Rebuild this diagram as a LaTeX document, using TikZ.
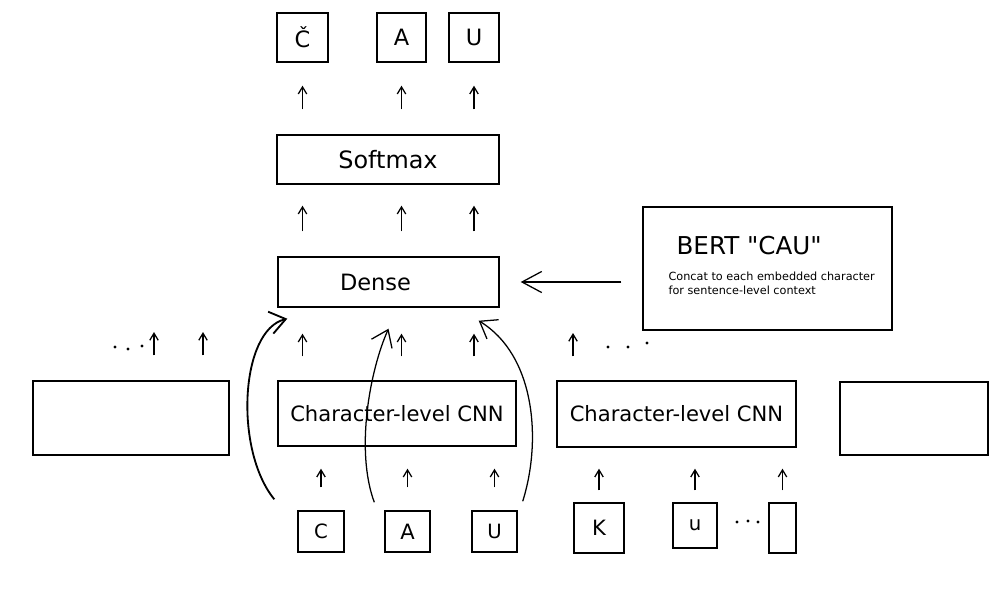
\documentclass[tikz,border=0pt]{standalone}
\usepackage{fontspec}
\setmainfont{DejaVu Sans}[Ligatures = TeXOff]
\usetikzlibrary{arrows.meta, calc}

\tikzset{
	box/.style = {draw, line width = 1pt, inner sep = 0pt},
	up/.style = {-{Straight Barb[length = 5pt, width = 6pt]}, line width = 0.9pt},
	curvearr/.style = {-{Straight Barb[length = 11pt, width = 16pt]}, line width = 0.9pt},
	fs/.style = {font = \fontsize{#1}{#1}\selectfont},
}

\begin{document}
\begin{tikzpicture}[x = 0.25mm, y = -0.25mm]
	\useasboundingbox (0,0) rectangle (1004,601);
	\node [box, fs = 16, minimum width = 12.75mm, minimum height = 12.25mm] (outc) at (302.5,37.5) {Č};
	\node [box, fs = 16, minimum width = 12.25mm, minimum height = 12.25mm] (outa) at (401.5,37.5) {A};
	\node [box, fs = 16, minimum width = 12.5mm, minimum height = 12.25mm] (outu) at (474,37.5) {U};
	\node [box, fs = 17, minimum width = 55.5mm, minimum height = 12.25mm] (softmax) at (388,159.5) {Softmax};
	\node [box, fs = 16, minimum width = 55.25mm, minimum height = 12.5mm] (dense) at (388.5,282) {\hspace*{-6.5mm}Dense};
	\node [box, minimum width = 62.25mm, minimum height = 30.75mm] (bert) at (767.5,268.5) {};
	\node [fs = 17.5, anchor = west, inner sep = 0pt] (berttitle) at ($(bert.north west) + (34,39)$) {BERT "CAU"};
	\node [font = \fontsize{8}{10}\selectfont, anchor = north west, inner sep = 0pt, align = left] (bertnote) at ($(bert.north west) + (26,65)$) {Concat to each embedded character\\for sentence-level context};
	\node [box, minimum width = 49mm, minimum height = 18.5mm] (leftbox) at (131,418) {};
	\node [box, fs = 15, minimum width = 59.5mm, minimum height = 16.25mm] (cnn1) at (397,413.5) {Character-level CNN};
	\node [box, fs = 15, minimum width = 59.75mm, minimum height = 16.5mm] (cnn2) at (676.5,414) {Character-level CNN};
	\node [box, minimum width = 37mm, minimum height = 18.25mm] (rightbox) at (914,418.5) {};
	\node [box, fs = 14, minimum width = 11.5mm, minimum height = 10.25mm] (inc) at (321,531.5) {C};
	\node [box, fs = 15, minimum width = 11.25mm, minimum height = 10.25mm] (ina) at (407.5,531.5) {A};
	\node [box, fs = 14, minimum width = 11.25mm, minimum height = 10.25mm] (inu) at (494.5,531.5) {U};
	\node [box, fs = 15, minimum width = 12.5mm, minimum height = 12.5mm] (ink) at (599,528) {K};
	\node [box, fs = 14, minimum width = 11mm, minimum height = 11.25mm] (inlu) at (695,525.5) {u};
	\node [box, minimum width = 6.75mm, minimum height = 12.5mm] (innext) at (782.5,528) {};
	\coordinate (t1) at (154,332);
	\coordinate (t2) at (203,332);
	\coordinate (t4) at (573,333);

	\foreach \o in {outc, outa, outu} {
		\draw [up, shorten < = 6.25mm, shorten > = 5.75mm] (softmax.north -| \o) -- (\o.south);
		\draw [up, shorten < = 6.25mm, shorten > = 5.25mm] (dense.north -| \o) -- (softmax.south -| \o);
		\draw [up, shorten < = 6mm, shorten > = 6.5mm] (cnn1.north -| \o) -- (dense.south -| \o);
	}
	\draw [up, shorten < = 6mm] (cnn2.north -| t4) -- (t4);
	\draw [up, shorten < = 6.25mm] (leftbox.north -| t1) -- (t1);
	\draw [up, shorten < = 6.25mm] (leftbox.north -| t2) -- (t2);
	\foreach \i in {inc, ina, inu}
		\draw [up, shorten < = 5.75mm, shorten > = 5.5mm] (\i.north) -- (\i.north |- cnn1.south);
	\foreach \i in {ink, inlu, innext}
		\draw [up, shorten < = 3mm, shorten > = 5.25mm] (\i.north |- ink.north) -- (\i.north |- cnn2.south);

	\draw [-{Straight Barb[length = 14pt, width = 15pt]}, line width = 0.9pt, shorten < = 5.25mm, shorten > = 5.25mm] (bert.west |- dense.east) -- (dense.east);

	\draw [curvearr, line width = 1.3pt] ($(inc.north west) + (-23,-11)$) .. controls (234,450) and (240,330) .. ($(dense.south west) + (10,11)$);
	\draw [curvearr] ($(ina.north west) + (-10,-8)$) .. controls (355,450) and (370,370) .. ($(dense.south) + (0,21)$);
	\draw [curvearr] ($(inu.north east) + (5,-9)$) .. controls (542,440) and (535,355) .. ($(dense.south east) + (-21,13)$);

	\foreach \x/\y in {115/347, 128/349, 142/346, 608/347, 628/347, 647/343, 737/522, 748/521, 758/522}
		\fill (\x,\y) circle (1.6);
\end{tikzpicture}
\end{document}
